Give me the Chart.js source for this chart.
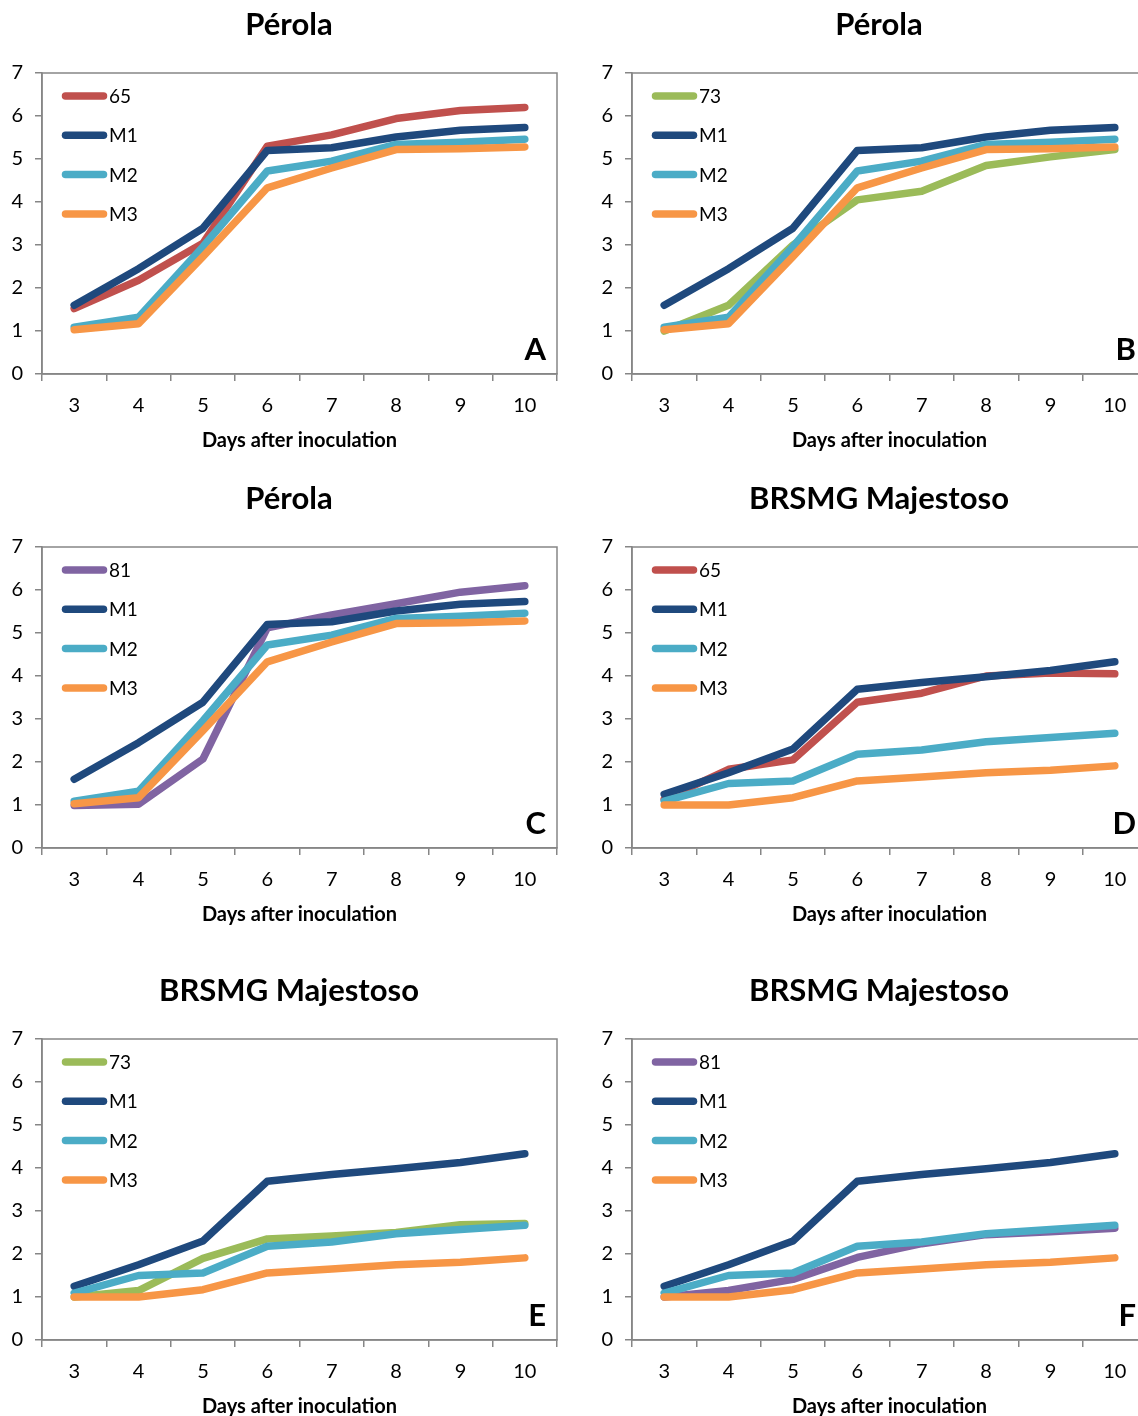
<!DOCTYPE html>
<html>
<head>
<meta charset="utf-8">
<script src="https://cdn.jsdelivr.net/npm/chart.js@4.4.1/dist/chart.umd.min.js"></script>
<style>
  html, body { margin: 0; padding: 0; background: #fff; }
  body { width: 1138px; height: 1416px; overflow: hidden; position: relative; }
  .panel { position: absolute; width: 580px; height: 460px; }
</style>
</head>
<body>
<div class="panel" style="left:0;top:0"><canvas id="chartA" width="580" height="460"></canvas></div>
<div class="panel" style="left:590px;top:0"><canvas id="chartB" width="580" height="460"></canvas></div>
<div class="panel" style="left:0;top:474px"><canvas id="chartC" width="580" height="460"></canvas></div>
<div class="panel" style="left:590px;top:474px"><canvas id="chartD" width="580" height="460"></canvas></div>
<div class="panel" style="left:0;top:966px"><canvas id="chartE" width="580" height="460"></canvas></div>
<div class="panel" style="left:590px;top:966px"><canvas id="chartF" width="580" height="460"></canvas></div>
<script>
const days = ['3', '4', '5', '6', '7', '8', '9', '10'];
const yTicks = [0, 1, 2, 3, 4, 5, 6, 7];

// Pérola
const perolaM1 = [1.60, 2.45, 3.39, 5.20, 5.26, 5.51, 5.67, 5.73];
const perolaM2 = [1.09, 1.32, 2.96, 4.72, 4.95, 5.34, 5.39, 5.46];
const perolaM3 = [1.03, 1.17, 2.73, 4.33, 4.79, 5.22, 5.24, 5.28];
const perola65 = [1.52, 2.18, 3.04, 5.30, 5.56, 5.94, 6.13, 6.20];
const perola73 = [1.00, 1.60, 3.00, 4.05, 4.25, 4.85, 5.05, 5.22];
const perola81 = [0.99, 1.02, 2.07, 5.12, 5.42, 5.68, 5.95, 6.10];

// BRSMG Majestoso
const majM1 = [1.25, 1.75, 2.30, 3.69, 3.85, 3.98, 4.13, 4.33];
const majM2 = [1.09, 1.50, 1.56, 2.18, 2.28, 2.47, 2.57, 2.67];
const majM3 = [1.00, 1.00, 1.17, 1.56, 1.65, 1.75, 1.81, 1.91];
const maj65 = [1.13, 1.83, 2.05, 3.39, 3.60, 4.00, 4.07, 4.05];
const maj73 = [1.00, 1.15, 1.90, 2.35, 2.42, 2.50, 2.68, 2.71];
const maj81 = [1.00, 1.15, 1.41, 1.92, 2.24, 2.45, 2.52, 2.60];

const COLORS = {
  '65': '#C0504D',
  '73': '#9BBB59',
  '81': '#8064A2',
  M1: '#1F497D',
  M2: '#4BACC6',
  M3: '#F79646',
};
const AXIS_COLOR = '#868686';
const FONT = 'Lato';

const panelDecor = {
  id: 'panelDecor',
  afterDatasetsDraw(chart, args, opts) {
    const { ctx, chartArea: a } = chart;
    ctx.save();
    ctx.strokeStyle = AXIS_COLOR;
    ctx.lineWidth = 1.5;
    ctx.strokeRect(a.left, a.top, a.right - a.left, a.bottom - a.top);

    chart.data.datasets.forEach((ds, i) => {
      const y = a.top + 23 + i * 39.3;
      ctx.strokeStyle = ds.borderColor;
      ctx.lineWidth = 7.5;
      ctx.lineCap = 'round';
      ctx.beginPath();
      ctx.moveTo(a.left + 23.5, y);
      ctx.lineTo(a.left + 61.5, y);
      ctx.stroke();
      ctx.fillStyle = '#000';
      ctx.font = `19px ${FONT}`;
      ctx.textAlign = 'left';
      ctx.textBaseline = 'middle';
      ctx.fillText(ds.label, a.left + 67, y + 1);
    });

    ctx.fillStyle = '#000';
    ctx.font = `bold 31px ${FONT}`;
    ctx.textAlign = 'right';
    ctx.textBaseline = 'alphabetic';
    ctx.fillText(opts.letter, a.right - 11, a.bottom - 14);

    ctx.font = `bold 31px ${FONT}`;
    ctx.textAlign = 'center';
    ctx.textBaseline = 'middle';
    ctx.fillText(opts.title, 289, 25);
    ctx.restore();
  },
};

const makeChart = (id, title, letter, series) => {
  const datasets = series.map(([label, data], i) => ({
    label,
    data,
    borderColor: COLORS[label],
    backgroundColor: COLORS[label],
    borderWidth: 7.5,
    borderCapStyle: 'round',
    borderJoinStyle: 'round',
    pointRadius: 0,
    tension: 0,
    order: series.length - i,
  }));

  return new Chart(document.getElementById(id), {
    type: 'line',
    data: { labels: days, datasets },
    plugins: [panelDecor],
    options: {
      responsive: false,
      animation: false,
      layout: { padding: { top: 73, right: 23, left: 0, bottom: 0 } },
      plugins: {
        legend: { display: false },
        tooltip: { enabled: false },
        panelDecor: { title, letter },
      },
      scales: {
        x: {
          type: 'category',
          offset: true,
          afterFit: (scale) => { scale.height = 86; },
          grid: {
            offset: true,
            drawOnChartArea: false,
            tickLength: 7,
            color: AXIS_COLOR,
            lineWidth: 1.5,
          },
          border: { color: AXIS_COLOR, width: 1.5 },
          ticks: { color: '#000', font: { family: FONT, size: 20 }, padding: 13, maxRotation: 0 },
          title: {
            display: true,
            text: 'Days after inoculation',
            color: '#000',
            font: { family: FONT, size: 20, weight: 'bold' },
            padding: { top: 0, bottom: 7 },
          },
        },
        y: {
          min: yTicks[0],
          max: yTicks[yTicks.length - 1],
          afterFit: (scale) => { scale.width = 42; },
          afterBuildTicks: (scale) => { scale.ticks = yTicks.map((v) => ({ value: v })); },
          grid: {
            drawOnChartArea: false,
            tickLength: 7,
            color: AXIS_COLOR,
            lineWidth: 1.5,
          },
          border: { color: AXIS_COLOR, width: 1.5 },
          ticks: { color: '#000', font: { family: FONT, size: 20 }, padding: 12 },
        },
      },
    },
  });
};

makeChart('chartA', 'Pérola', 'A', [['65', perola65], ['M1', perolaM1], ['M2', perolaM2], ['M3', perolaM3]]);
makeChart('chartB', 'Pérola', 'B', [['73', perola73], ['M1', perolaM1], ['M2', perolaM2], ['M3', perolaM3]]);
makeChart('chartC', 'Pérola', 'C', [['81', perola81], ['M1', perolaM1], ['M2', perolaM2], ['M3', perolaM3]]);
makeChart('chartD', 'BRSMG Majestoso', 'D', [['65', maj65], ['M1', majM1], ['M2', majM2], ['M3', majM3]]);
makeChart('chartE', 'BRSMG Majestoso', 'E', [['73', maj73], ['M1', majM1], ['M2', majM2], ['M3', majM3]]);
makeChart('chartF', 'BRSMG Majestoso', 'F', [['81', maj81], ['M1', majM1], ['M2', majM2], ['M3', majM3]]);
</script>
</body>
</html>
